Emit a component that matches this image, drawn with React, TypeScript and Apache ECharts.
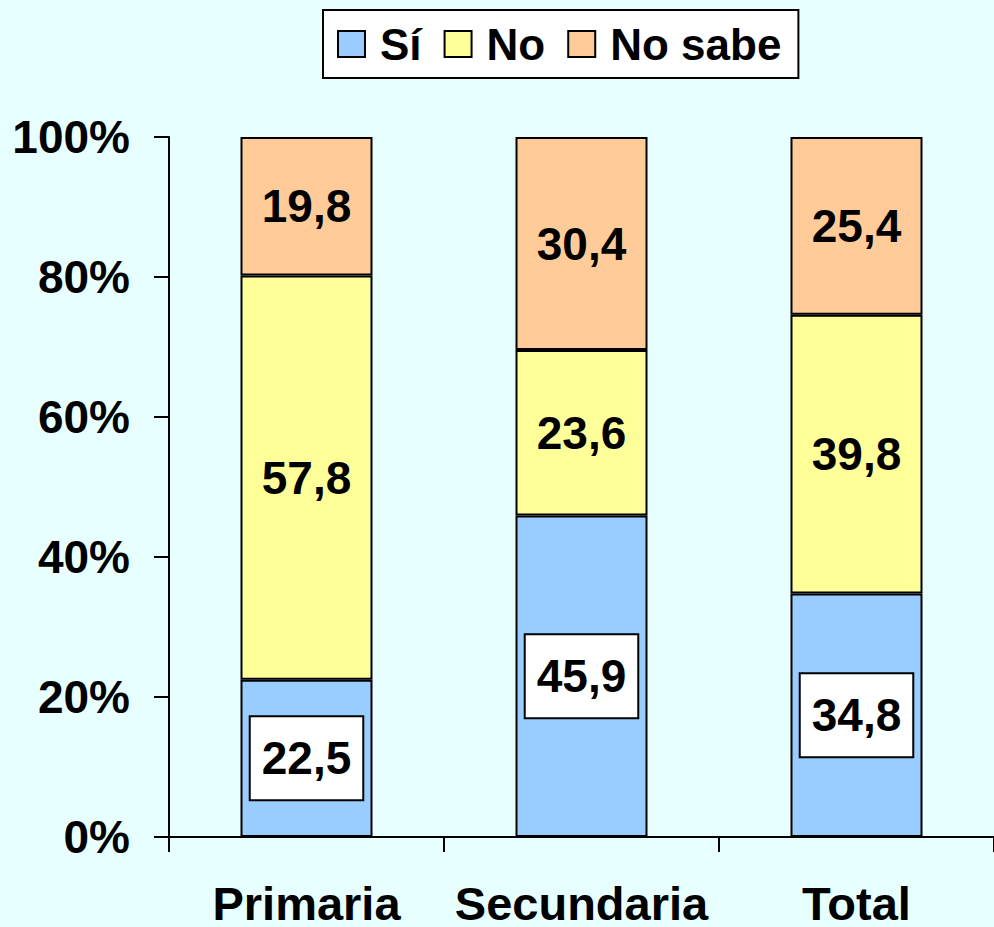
import React, { useEffect, useRef } from "react";
import * as echarts from "echarts";

const categories = ["Primaria", "Secundaria", "Total"];
const siValues = [22.5, 45.9, 34.8];
const noValues = [57.8, 23.6, 39.8];
const noSabeValues = [19.8, 30.4, 25.4];
const seriesNames = ["Sí", "No", "No sabe"];
const yTicks = [0, 20, 40, 60, 80, 100];

const FONT = "'Liberation Sans', Arial, Helvetica, sans-serif";
const fmt = (v: number) => v.toFixed(1).replace(".", ",");

export default function App() {
  const ref = useRef<HTMLDivElement>(null);
  useEffect(() => {
    document.body.style.margin = "0";
    const chart = echarts.init(ref.current!, undefined, { renderer: "svg" });
    const totals = categories.map((_, i) => siValues[i] + noValues[i] + noSabeValues[i]);
    const toPct = (arr: number[]) =>
      arr.map((v, i) => ({ value: (v / totals[i]) * 100, raw: v }));
    const border = { borderColor: "#000", borderWidth: 2 };
    const plainLabel = {
      show: true,
      position: "inside",
      formatter: (p: any) => fmt(p.data.raw),
      color: "#000",
      fontFamily: FONT,
      fontWeight: "bold",
      fontSize: 46,
    };
    chart.setOption({
      animation: false,
      backgroundColor: "#E8FFFF",
      textStyle: { fontFamily: FONT },
      legend: {
        data: seriesNames,
        left: 323,
        top: 10,
        padding: [12, 17, 12, 14],
        backgroundColor: "#fff",
        borderColor: "#000",
        borderWidth: 2,
        borderRadius: 0,
        itemWidth: 27,
        itemHeight: 26,
        itemGap: 22,
        icon: "rect",
        textStyle: {
          fontFamily: FONT,
          fontWeight: "bold",
          fontSize: 44,
          color: "#000",
          padding: [0, 0, 0, 10],
        },
      },
      grid: { left: 169, top: 137, width: 828, height: 704, containLabel: false },
      xAxis: {
        type: "category",
        data: categories,
        axisLine: { lineStyle: { color: "#000", width: 2 } },
        axisTick: { show: true, length: 15, lineStyle: { color: "#000", width: 2 } },
        axisLabel: {
          interval: 0,
          hideOverlap: false,
          margin: 43,
          color: "#000",
          fontFamily: FONT,
          fontWeight: "bold",
          fontSize: 47,
        },
      },
      yAxis: {
        type: "value",
        min: yTicks[0],
        max: yTicks[yTicks.length - 1],
        interval: 20,
        splitLine: { show: false },
        axisLine: { show: true, lineStyle: { color: "#000", width: 2 } },
        axisTick: { show: true, length: 15, lineStyle: { color: "#000", width: 2 } },
        axisLabel: {
          margin: 39,
          formatter: "{value}%",
          color: "#000",
          fontFamily: FONT,
          fontWeight: "bold",
          fontSize: 46,
        },
      },
      series: [
        {
          name: seriesNames[0],
          type: "bar",
          stack: "total",
          barWidth: 132,
          data: toPct(siValues),
          itemStyle: { color: "#99CCFF", ...border },
          label: {
            ...plainLabel,
            backgroundColor: "#fff",
            borderColor: "#000",
            borderWidth: 2,
            padding: [18, 11, 18, 11],
          },
        },
        {
          name: seriesNames[1],
          type: "bar",
          stack: "total",
          barWidth: 132,
          data: toPct(noValues),
          itemStyle: { color: "#FFFF99", ...border },
          label: plainLabel,
        },
        {
          name: seriesNames[2],
          type: "bar",
          stack: "total",
          barWidth: 132,
          data: toPct(noSabeValues),
          itemStyle: { color: "#FFCC99", ...border },
          label: plainLabel,
        },
      ],
    });
    return () => chart.dispose();
  }, []);
  return (
    <div
      ref={ref}
      style={{ position: "fixed", left: 0, top: 0, width: 994, height: 927 }}
    />
  );
}
